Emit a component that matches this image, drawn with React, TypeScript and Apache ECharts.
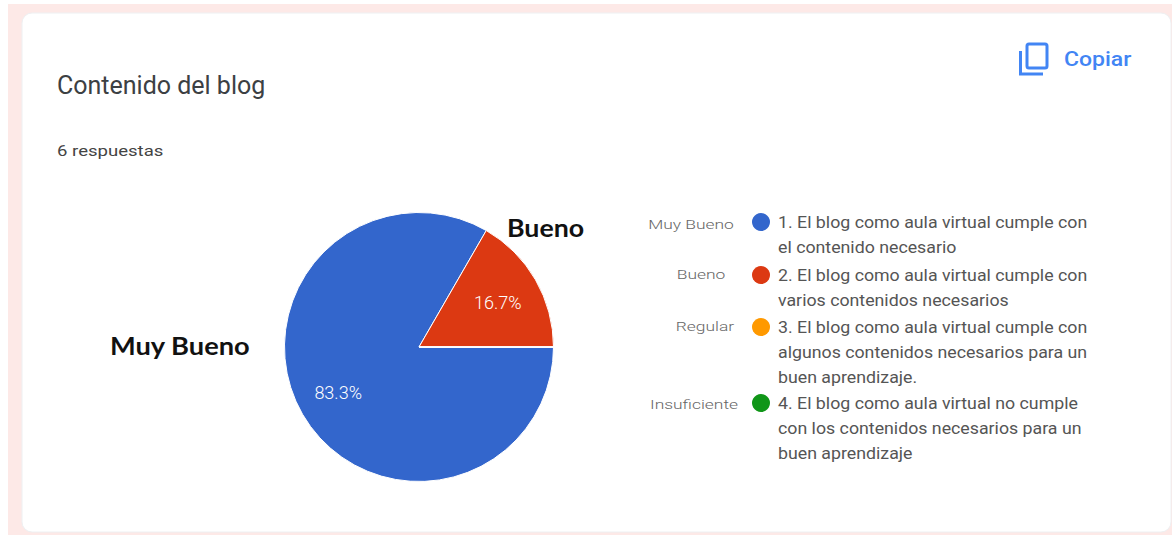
import React, { useEffect, useRef } from "react";
import * as echarts from "echarts";

const categories = ["Muy Bueno", "Bueno", "Regular", "Insuficiente"];
const values = [5, 1, 0, 0];
const colors = ["#3366cc", "#dc3912", "#ff9900", "#109618"];
const legendLines = [
  ["1. El blog como aula virtual cumple con", "el contenido necesario"],
  ["2. El blog como aula virtual cumple con", "varios contenidos necesarios"],
  ["3. El blog como aula virtual cumple con", "algunos contenidos necesarios para un", "buen aprendizaje."],
  ["4. El blog como aula virtual no cumple", "con los contenidos necesarios para un", "buen aprendizaje"],
];
const legendRowY = [222, 275, 327, 403];
const legendTagX = [691, 701, 705, 694];
const legendTagY = [225, 275, 327, 405];
const titleText = "Contenido del blog";
const responsesText = "6 respuestas";
const copyText = "Copiar";

const BLUE = "#4285f4";
const FONT = "Roboto";

export default function App() {
  const ref = useRef<HTMLDivElement>(null);
  useEffect(() => {
    document.body.style.margin = "0";
    const chart = echarts.init(ref.current!, undefined, { renderer: "svg" });
    const legendGraphics: any[] = [];
    categories.forEach((c, i) => {
      legendGraphics.push({
        type: "text", x: legendTagX[i], y: legendTagY[i], z: 5, scaleX: 1.34, originX: 0, originY: 0,
        style: { text: c, font: `300 13px ${FONT}`, fill: "#666", align: "center", verticalAlign: "middle" },
      });
      legendGraphics.push({
        type: "circle", z: 5, shape: { cx: 761, cy: legendRowY[i], r: 9 }, style: { fill: colors[i] },
      });
      legendLines[i].forEach((line, j) => {
        legendGraphics.push({
          type: "text", x: 778, y: legendRowY[i] + j * 25, z: 5, scaleX: 1.11,
          style: { text: line, font: `16px ${FONT}`, fill: "#555", align: "left", verticalAlign: "middle" },
        });
      });
    });
    chart.setOption({
      animation: false,
      backgroundColor: "#ffffff",
      graphic: [
        { type: "rect", z: -2, shape: { x: 8, y: 4, width: 1164, height: 531 }, style: { fill: "#fde9e7" } },
        { type: "rect", z: -1, shape: { x: 22, y: 13, width: 1149, height: 519, r: 10 }, style: { fill: "#ffffff", stroke: "#eef0f2", lineWidth: 1 } },
        { type: "text", x: 57, y: 85, z: 5, style: { text: titleText, font: `25px ${FONT}`, fill: "#3c4043", align: "left", verticalAlign: "middle" } },
        { type: "text", x: 57, y: 151, z: 5, scaleX: 1.28, style: { text: responsesText, font: `14.5px ${FONT}`, fill: "#444", align: "left", verticalAlign: "middle" } },
        { type: "text", x: 1064, y: 59, z: 5, scaleX: 1.15, style: { text: copyText, font: `500 20px ${FONT}`, fill: BLUE, align: "left", verticalAlign: "middle" } },
        { type: "rect", z: 5, shape: { x: 1027, y: 44, width: 20, height: 24, r: 2 }, style: { fill: "none", stroke: BLUE, lineWidth: 3 } },
        { type: "polyline", z: 5, shape: { points: [[1020.5, 51], [1020.5, 74], [1043, 74]] }, style: { fill: "none", stroke: BLUE, lineWidth: 3 } },
        { type: "text", x: 110, y: 345, z: 5, scaleX: 1.09, style: { text: categories[0], font: `700 25px Lato`, fill: "#111", align: "left", verticalAlign: "middle" } },
        { type: "text", x: 507, y: 227, z: 5, scaleX: 1.07, style: { text: categories[1], font: `700 25px Lato`, fill: "#111", align: "left", verticalAlign: "middle" } },
        ...legendGraphics,
      ],
      series: [
        {
          type: "pie",
          center: [419, 347],
          radius: [0, 134.5],
          startAngle: 0,
          clockwise: true,
          percentPrecision: 1,
          silent: true,
          itemStyle: { borderColor: "#ffffff", borderWidth: 1 },
          label: {
            position: "inside",
            formatter: (p: any) => (p.value > 0 ? `${p.percent.toFixed(1)}%` : ""),
            color: "#ffffff",
            fontFamily: FONT,
            fontWeight: 300,
            fontSize: 18,
          },
          labelLine: { show: false },
          labelLayout: (p: any) =>
            p.dataIndex === 0 ? { dx: -20, dy: 10 } : p.dataIndex === 1 ? { dx: 18, dy: -9 } : {},
          data: categories.map((name, i) => ({
            name,
            value: values[i],
            itemStyle: { color: colors[i] },
          })),
        },
      ],
    });
    return () => chart.dispose();
  }, []);
  return <div ref={ref} style={{ width: 1172, height: 535 }} />;
}
